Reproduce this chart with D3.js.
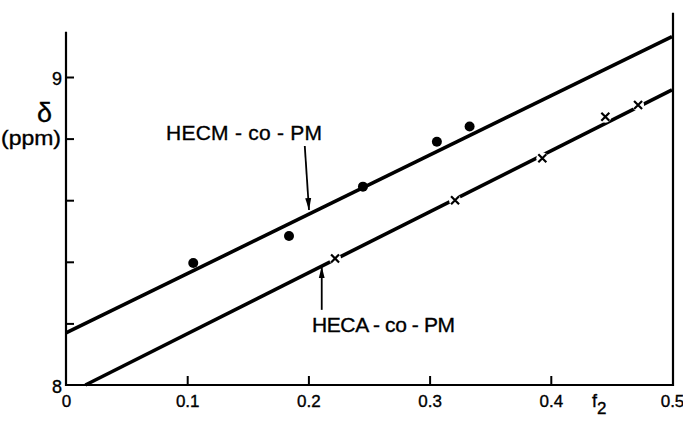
<!DOCTYPE html>
<html>
<head>
<meta charset="utf-8">
<script src="https://cdn.jsdelivr.net/npm/d3@7"></script>
<style>
  body { margin: 0; background: #fff; }
  svg text { font-family: "Liberation Sans", Arial, sans-serif; fill: #000; stroke: #000; stroke-width: 0.35px; }
</style>
</head>
<body>
<script>
// HECM-co-PM measured points (dots)
var hecmF2 = [0.105, 0.184, 0.245, 0.306, 0.333];
var hecmShift = [8.396, 8.484, 8.644, 8.79, 8.839];
// HECA-co-PM measured points (crosses)
var hecaF2 = [0.222, 0.321, 0.393, 0.445, 0.472];
var hecaShift = [8.411, 8.60, 8.736, 8.871, 8.909];
// fitted straight lines (end points)
var hecmLineF2 = [0, 0.5];
var hecmLineShift = [8.169, 9.131];
var hecaLineF2 = [0.016, 0.5];
var hecaLineShift = [8, 8.958];
// ticks
var xTicks = [0, 0.1, 0.2, 0.3, 0.4, 0.5];
var xTickLabels = ["0", "0.1", "0.2", "0.3", "0.4", "0.5"];
var yTicks = [8, 8.2, 8.4, 8.6, 8.8, 9];
var yTickLabels = ["8", "", "", "", "", "9"];

var W = 683, H = 421;
var svg = d3.select("body").append("svg").attr("width", W).attr("height", H);

var x = d3.scaleLinear().domain([0, 0.5]).range([66, 672]);
var y = d3.scaleLinear().domain([8, 9]).range([385, 77]);

// x axis, ticks pointing up
var xAxis = d3.axisBottom(x)
  .tickValues(xTicks)
  .tickSize(-9)
  .tickSizeOuter(0)
  .tickPadding(14)
  .tickFormat(function(d, i) { return xTickLabels[i]; });
var gx = svg.append("g").attr("transform", "translate(0," + y(8) + ")").call(xAxis);
gx.select(".domain").remove();
gx.selectAll("line").attr("stroke", "#000").attr("stroke-width", 2);
gx.selectAll("text").attr("font-size", 17).attr("dy", "0.45em");
gx.selectAll(".tick").filter(function(d) { return d == 0 || d == 0.5; }).select("line").remove();

// y axis, ticks pointing right
var yAxis = d3.axisLeft(y)
  .tickValues(yTicks)
  .tickSize(-8)
  .tickSizeOuter(0)
  .tickPadding(4)
  .tickFormat(function(d, i) { return yTickLabels[i]; });
var gy = svg.append("g").attr("transform", "translate(" + x(0) + ",0)").call(yAxis);
gy.select(".domain").remove();
gy.selectAll("line").attr("stroke", "#000").attr("stroke-width", 2);
gy.selectAll("text").attr("font-size", 18).attr("dy", "0.4em");
gy.selectAll(".tick").filter(function(d) { return d == 8; }).select("line").remove();

// frame lines
svg.append("line").attr("x1", x(0)).attr("x2", x(0.5)).attr("y1", y(8)).attr("y2", y(8))
  .attr("stroke", "#000").attr("stroke-width", 2.2);
svg.append("line").attr("x1", x(0)).attr("x2", x(0)).attr("y1", y(8) + 1).attr("y2", y(9.147))
  .attr("stroke", "#000").attr("stroke-width", 2.2);
svg.append("line").attr("x1", x(0.5) + 1).attr("x2", x(0.5) + 1).attr("y1", y(8) + 1).attr("y2", y(9.209))
  .attr("stroke", "#000").attr("stroke-width", 2.2);

// fitted lines
var line = d3.line().x(function(d) { return x(d[0]); }).y(function(d) { return y(d[1]); });
svg.append("path").datum(d3.zip(hecmLineF2, hecmLineShift)).attr("d", line)
  .attr("fill", "none").attr("stroke", "#000").attr("stroke-width", 3.6);
svg.append("path").datum(d3.zip(hecaLineF2, hecaLineShift)).attr("d", line)
  .attr("fill", "none").attr("stroke", "#000").attr("stroke-width", 3.6);

// dots
svg.selectAll("circle.dot").data(d3.zip(hecmF2, hecmShift)).enter().append("circle")
  .attr("class", "dot")
  .attr("cx", function(d) { return x(d[0]); })
  .attr("cy", function(d) { return y(d[1]); })
  .attr("r", 5).attr("fill", "#000");

// crosses with small white gap in the line
var crosses = svg.selectAll("g.cross").data(d3.zip(hecaF2, hecaShift)).enter().append("g")
  .attr("class", "cross")
  .attr("transform", function(d) { return "translate(" + x(d[0]) + "," + y(d[1]) + ")"; });
crosses.append("circle").attr("r", 6).attr("fill", "#fff");
crosses.append("path").attr("d", "M-4,-4L4,4M-4,4L4,-4")
  .attr("stroke", "#000").attr("stroke-width", 2.2).attr("fill", "none");

// arrows
var defs = svg.append("defs");
defs.append("marker").attr("id", "ah").attr("viewBox", "0 0 12 8")
  .attr("refX", 12).attr("refY", 4).attr("markerWidth", 12).attr("markerHeight", 8)
  .attr("markerUnits", "userSpaceOnUse").attr("orient", "auto")
  .append("path").attr("d", "M0,1L12,4L0,7Z").attr("fill", "#000");

svg.append("line").attr("x1", x(0.197)).attr("y1", y(8.776)).attr("x2", x(0.2005)).attr("y2", y(8.568))
  .attr("stroke", "#000").attr("stroke-width", 1.8).attr("marker-end", "url(#ah)");
svg.append("line").attr("x1", x(0.211)).attr("y1", y(8.244)).attr("x2", x(0.211)).attr("y2", y(8.385))
  .attr("stroke", "#000").attr("stroke-width", 1.8).attr("marker-end", "url(#ah)");

// series labels
svg.append("text").attr("x", 166).attr("y", 140).attr("font-size", 21)
  .attr("textLength", 156).attr("lengthAdjust", "spacing").text("HECM - co - PM");
svg.append("text").attr("x", 312).attr("y", 332).attr("font-size", 21)
  .attr("textLength", 143).attr("lengthAdjust", "spacing").text("HECA - co - PM");

// axis titles
svg.append("text").attr("x", 37).attr("y", 122).attr("font-size", 27).text("δ");
svg.append("text").attr("x", 1).attr("y", 145).attr("font-size", 20)
  .attr("textLength", 60).attr("lengthAdjust", "spacingAndGlyphs").text("(ppm)");
var f2 = svg.append("text").attr("x", 592).attr("y", 407).attr("font-size", 18);
f2.append("tspan").text("f");
f2.append("tspan").attr("dy", 7).attr("font-size", 17).text("2");
</script>
</body>
</html>
